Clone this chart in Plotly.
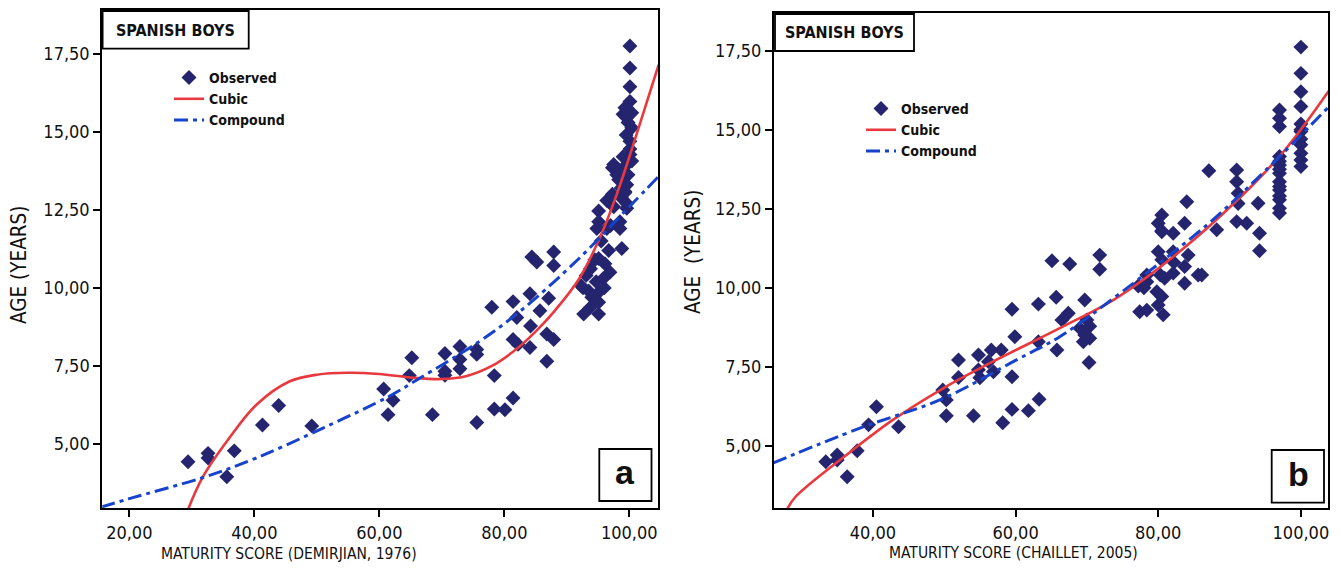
import plotly.graph_objects as go

# ---------------- DATA ----------------
# Panel a: Demirjian (1976) maturity score vs age
obs_a_x = [29.4, 32.6, 32.6, 36.8, 35.6, 41.3, 43.9, 49.2,
           60.7, 61.4, 62.2, 65.2, 64.8, 68.5, 70.5, 70.5, 70.5,
           72.9, 72.9, 72.9, 75.6, 75.6, 75.6, 78.0, 78.4, 78.4, 80.1, 81.4, 81.4, 81.4, 82.2, 82.0,
           84.1, 84.2, 84.1, 84.4, 85.2, 85.7, 87.1, 86.8, 87.9, 86.8, 87.9, 87.9,
           92.7, 93.8, 95.1, 95.1, 95.1, 94.7, 93.1, 92.3, 93.8, 95.1, 96.1, 96.9, 95.8, 96.7, 98.8,
           96.4, 95.1, 95.1, 94.8, 96.4, 98.5, 98.5, 98.8, 99.3, 98.3, 99.6, 99.6, 92.6, 94.0, 96.0,
           93.5, 94.5, 95.5, 97.0, 97.5,
           100.1, 100.1, 100.1, 100.1, 99.3, 99.0, 99.6, 100.4, 99.8, 100.4, 100.1, 100.1, 100.1,
           100.4, 99.6, 97.5, 97.3, 98.0, 99.0, 99.8, 99.6, 98.7, 97.3, 99.3, 99.0, 99.5, 98.2]
obs_a_y = [4.43, 4.70, 4.55, 4.78, 3.95, 5.61, 6.23, 5.58,
           6.76, 5.94, 6.40, 7.76, 7.19, 5.94, 7.90, 7.33, 7.20,
           8.12, 7.71, 7.41, 8.03, 7.87, 5.69, 9.38, 7.19, 6.12, 6.10, 6.47, 9.56, 8.35, 8.19, 9.05,
           9.81, 8.78, 8.09, 10.99, 10.83, 9.27, 9.67, 8.52, 8.35, 7.65, 11.15, 10.72,
           9.16, 9.38, 9.16, 9.54, 9.86, 10.20, 10.40, 10.07, 10.61, 10.94, 10.77, 10.50, 10.29, 11.20, 11.26,
           11.90, 12.12, 12.46, 11.90, 12.80, 12.12, 11.90, 12.87, 13.09, 13.46, 12.55, 12.70, 10.00, 9.70, 10.00,
           9.90, 10.90, 11.50, 12.00, 12.60,
           17.75, 17.04, 16.44, 15.97, 15.77, 15.56, 15.45, 15.61, 15.30, 15.13, 14.70, 14.45, 14.27,
           14.06, 13.95, 13.95, 13.85, 13.62, 13.52, 13.62, 13.30, 13.20, 13.00, 13.05, 14.20, 14.90, 13.80]

cubic_a_x = [29.2, 31.7, 36.0, 40.3, 45.6, 50.0, 55.0, 60.0, 65.0, 70.0, 74.0, 78.0, 82.0, 85.0,
             88.0, 92.0, 95.5, 98.0, 100.5, 104.7]
cubic_a_y = [2.80, 3.92, 5.19, 6.25, 7.00, 7.22, 7.28, 7.24, 7.13, 7.08, 7.18, 7.50, 8.05, 8.60,
             9.25, 10.30, 11.70, 13.00, 14.50, 17.15]

comp_a_x = [15.5, 20.0, 31.7, 40.3, 50.9, 61.6, 66.4, 76.0, 82.4, 92.0, 100.0, 104.7]
comp_a_y = [2.98, 3.25, 3.92, 4.55, 5.50, 6.53, 7.10, 8.28, 9.23, 10.95, 12.60, 13.57]

# Panel b: Chaillet (2005) maturity score vs age
obs_b_x = [33.4, 35.0, 35.0, 36.4, 37.8, 39.4, 40.5, 43.6, 49.8, 50.3, 50.3, 52.0, 52.0, 54.1,
           54.8, 54.8, 55.0, 56.2, 56.6, 56.9, 58.0, 58.2, 59.5, 59.9, 59.5, 59.5, 61.8, 63.2, 63.2,
           63.3, 65.1, 65.7, 65.8, 67.6, 71.8, 71.8, 69.7, 67.4, 66.5, 70.0, 69.0, 70.4, 69.7, 70.4,
           69.5, 70.3,
           77.2, 78.4, 78.4, 78.0, 80.0, 80.5, 80.3, 80.9, 80.5, 80.0, 80.5, 82.1, 82.1, 82.2, 82.1,
           83.7, 83.7, 84.0, 84.2, 83.7, 85.6, 79.8, 80.5, 80.0, 80.7, 77.4, 78.4, 87.1, 91.0, 91.0,
           91.2, 91.2, 91.0, 92.4, 94.0, 94.2, 94.2, 86.1, 88.2, 80.5,
           97.0, 97.0, 97.0, 97.0, 97.0, 97.0, 97.0, 97.0, 97.0, 97.0, 97.0, 97.0, 97.0, 97.0, 97.0,
           100.0, 100.0, 100.0, 100.0, 100.0, 100.0, 100.0, 100.0, 100.0, 100.0, 100.0, 100.0]
obs_b_y = [4.49, 4.71, 4.55, 4.02, 4.84, 5.66, 6.23, 5.60, 6.76, 6.45, 5.95, 7.71, 7.16, 5.95,
           7.87, 7.40, 7.15, 7.66, 8.03, 7.34, 8.03, 5.73, 9.32, 8.45, 7.18, 6.15, 6.11, 9.48, 8.29,
           6.47, 10.85, 9.70, 8.03, 10.75, 11.03, 10.58, 9.61, 9.19, 8.98, 8.98, 8.72, 8.78, 8.50, 8.40,
           8.29, 7.63,
           10.05, 10.19, 10.40, 10.00, 11.14, 10.88, 10.40, 10.30, 12.30, 12.04, 11.77, 11.72, 11.14, 10.80, 10.46,
           10.67, 12.04, 12.72, 11.03, 10.14, 10.40, 9.87, 9.72, 9.45, 9.14, 9.24, 9.29, 13.70, 13.72, 13.35,
           12.99, 12.66, 12.09, 12.04, 12.67, 11.72, 11.17, 10.40, 11.83, 11.80,
           15.62, 15.36, 15.10, 14.15, 13.88, 13.62, 13.35, 13.09, 12.78, 12.51, 12.36, 14.00, 13.75, 13.20, 12.90,
           17.61, 16.78, 16.20, 15.73, 15.18, 14.94, 14.52, 14.25, 14.04, 13.83, 14.70, 15.00]

cubic_b_x = [28.0, 29.1, 36.2, 42.7, 49.8, 56.8, 66.2, 74.2, 83.1, 91.5, 97.7, 103.9]
cubic_b_y = [3.00, 3.37, 4.69, 5.80, 6.81, 7.66, 8.72, 9.68, 11.16, 12.86, 14.34, 16.22]

comp_b_x = [26.0, 38.0, 49.8, 60.0, 66.2, 75.1, 86.9, 95.0, 103.9]
comp_b_y = [4.45, 5.54, 6.49, 7.70, 8.45, 9.90, 12.00, 13.70, 15.72]

y_ticks = [5.0, 7.5, 10.0, 12.5, 15.0, 17.5]
y_tick_text = ["5,00", "7,50", "10,00", "12,50", "15,00", "17,50"]
xa_ticks = [20, 40, 60, 80, 100]
xa_tick_text = ["20,00", "40,00", "60,00", "80,00", "100,00"]
xb_ticks = [40, 60, 80, 100]
xb_tick_text = ["40,00", "60,00", "80,00", "100,00"]

# ---------------- STYLE ----------------
COND = "DejaVu Sans Condensed, DejaVu Sans, sans-serif"
MARK = "#25256f"
RED = "#e8393f"
BLUE = "#1742cc"
DASHDOT = "14px,5px,4px,5px"

fig = go.Figure()

def add_panel(xs, ys, cx, cy, bx, by, xa, ya, leg):
    fig.add_trace(go.Scatter(x=xs, y=ys, mode="markers", name="Observed",
                             marker=dict(symbol="diamond", size=11.5, color=MARK),
                             xaxis=xa, yaxis=ya, legend=leg))
    fig.add_trace(go.Scatter(x=cx, y=cy, mode="lines", name="Cubic", line_shape="spline",
                             line=dict(color=RED, width=2.6),
                             xaxis=xa, yaxis=ya, legend=leg))
    fig.add_trace(go.Scatter(x=bx, y=by, mode="lines", name="Compound", line_shape="spline",
                             line=dict(color=BLUE, width=3, dash=DASHDOT),
                             xaxis=xa, yaxis=ya, legend=leg))

add_panel(obs_a_x, obs_a_y, cubic_a_x, cubic_a_y, comp_a_x, comp_a_y, "x", "y", "legend")
add_panel(obs_b_x, obs_b_y, cubic_b_x, cubic_b_y, comp_b_x, comp_b_y, "x2", "y2", "legend2")

# The page body has an 8px margin; positions below are given in window pixels.
OFF = 8
W, H = 1339 - OFF, 568 - OFF
def px_x(p): return (p - OFF) / W
def px_y(p): return 1 - (p - OFF) / H

axis_common = dict(showline=True, linecolor="black", linewidth=2, mirror=True,
                   ticks="outside", ticklen=7, tickwidth=1.5, tickcolor="black",
                   showgrid=False, zeroline=False,
                   tickfont=dict(family=COND, size=18, color="#111"))

legend_common = dict(bgcolor="rgba(0,0,0,0)", borderwidth=0,
                     font=dict(family=COND, size=14, color="#111", weight="bold"),
                     xanchor="left", yanchor="top", itemwidth=30, tracegroupgap=0)

fig.update_layout(
    width=W, height=H, margin=dict(l=0, r=0, t=0, b=0),
    paper_bgcolor="white", plot_bgcolor="white",
    xaxis=dict(domain=[px_x(102.3), px_x(658.3)], range=[15.68, 104.64], anchor="y",
               tickvals=xa_ticks, ticktext=xa_tick_text, **axis_common),
    yaxis=dict(domain=[px_y(508), px_y(10)], range=[2.95, 18.9], anchor="x",
               tickvals=y_ticks, ticktext=y_tick_text, **axis_common),
    xaxis2=dict(domain=[px_x(774), px_x(1328)], range=[26.14, 103.8], anchor="y2",
                tickvals=xb_ticks, ticktext=xb_tick_text, **axis_common),
    yaxis2=dict(domain=[px_y(508), px_y(13.3)], range=[3.03, 18.68], anchor="x2",
                tickvals=y_ticks, ticktext=y_tick_text, **axis_common),
    legend=dict(x=px_x(169), y=px_y(62), **legend_common),
    legend2=dict(x=px_x(861), y=px_y(93), **legend_common),
    showlegend=True,
)

ytitle_font = dict(family=COND, size=20.5, color="#111")
xtitle_font = dict(family=COND, size=15.5, color="#111")
annotations = [
    dict(text="AGE (YEARS)", x=px_x(19), y=px_y(265), textangle=-90, font=ytitle_font),
    dict(text="AGE  (YEARS)", x=px_x(693), y=px_y(252), textangle=-90, font=ytitle_font),
    dict(text="MATURITY SCORE (DEMIRJIAN, 1976)", x=px_x(289), y=px_y(554), font=xtitle_font),
    dict(text="MATURITY SCORE (CHAILLET, 2005)", x=px_x(1014), y=px_y(553), font=xtitle_font),
    dict(text="SPANISH BOYS", x=px_x(175.5), y=px_y(31), font=dict(family=COND, size=16, color="#111", weight="bold")),
    dict(text="SPANISH BOYS", x=px_x(844.5), y=px_y(33), font=dict(family=COND, size=16, color="#111", weight="bold")),
    dict(text="a", x=px_x(625), y=px_y(472), font=dict(family="Liberation Sans, Arial, sans-serif", size=34, color="#111", weight="bold")),
    dict(text="b", x=px_x(1298), y=px_y(474), font=dict(family="Liberation Sans, Arial, sans-serif", size=34, color="#111", weight="bold")),
]
for a in annotations:
    a.update(xref="paper", yref="paper", showarrow=False, xanchor="center", yanchor="middle")
fig.update_layout(annotations=annotations)

box_line = dict(color="black", width=1.8)
shapes = [
    dict(type="rect", x0=px_x(102.6), x1=px_x(248.7), y0=px_y(48.7), y1=px_y(11), line=box_line),
    dict(type="rect", x0=px_x(775), x1=px_x(914), y0=px_y(51), y1=px_y(14), line=box_line),
    dict(type="rect", x0=px_x(599.3), x1=px_x(651.5), y0=px_y(501), y1=px_y(449), line=box_line),
    dict(type="rect", x0=px_x(1271.7), x1=px_x(1324), y0=px_y(502.7), y1=px_y(450), line=box_line),
]
for s in shapes:
    s.update(xref="paper", yref="paper", fillcolor="rgba(0,0,0,0)")
fig.update_layout(shapes=shapes)

fig.write_html("out.html")
